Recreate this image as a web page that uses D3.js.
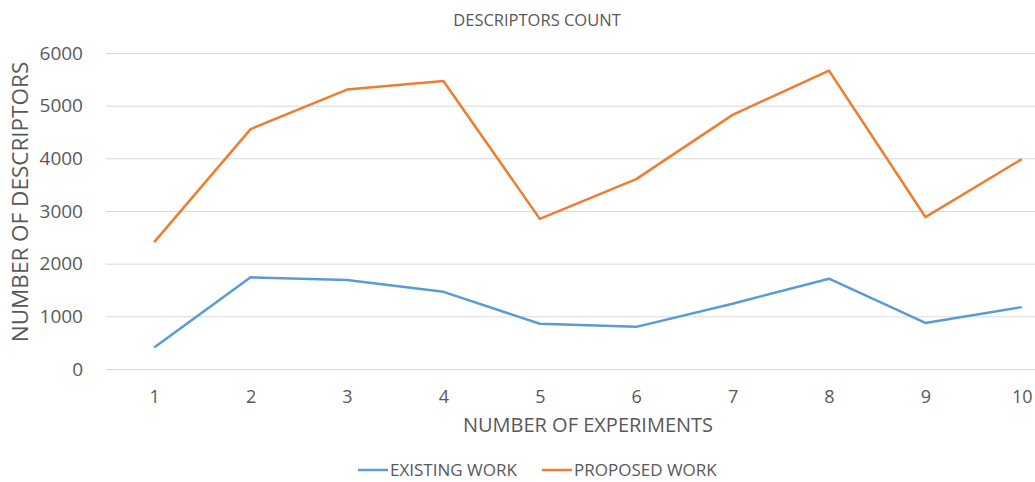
<!DOCTYPE html>
<html>
<head>
<meta charset="utf-8">
<script src="https://cdn.jsdelivr.net/npm/d3@7"></script>
<style>
  body { margin: 0; background: #fff; overflow: hidden; }
  svg text { font-family: "Open Sans", sans-serif; fill: #595959; }
</style>
</head>
<body>
<svg></svg>
<script>
const width = 1035;
const height = 482;

const experiments = ['1', '2', '3', '4', '5', '6', '7', '8', '9', '10'];
const existingWork = [410, 1740, 1690, 1465, 860, 800, 1240, 1715, 875, 1175];
const proposedWork = [2410, 4555, 5305, 5470, 2850, 3605, 4825, 5665, 2885, 3985];
const yTicks = [0, 1000, 2000, 3000, 4000, 5000, 6000];

const series = [
  { name: 'EXISTING WORK', values: existingWork, color: '#5B9BD5' },
  { name: 'PROPOSED WORK', values: proposedWork, color: '#ED7D31' }
];

// plot area runs past the right edge, as in the cropped original
const margin = { top: 53, left: 106, bottom: 113 };
const plotRight = 1070;

const svg = d3.select('svg')
  .attr('width', width)
  .attr('height', height);

const x = d3.scalePoint()
  .domain(experiments)
  .range([margin.left, plotRight])
  .padding(0.5);

const y = d3.scaleLinear()
  .domain([0, 6000])
  .range([height - margin.bottom, margin.top]);

// gridlines
svg.append('g')
  .selectAll('line')
  .data(yTicks)
  .enter()
  .append('line')
    .attr('x1', margin.left)
    .attr('x2', plotRight)
    .attr('y1', d => y(d) + 0.5)
    .attr('y2', d => y(d) + 0.5)
    .attr('stroke', '#d9d9d9')
    .attr('stroke-width', 1);

// y axis labels
const yAxis = svg.append('g')
  .attr('transform', `translate(${margin.left - 23},0)`)
  .call(d3.axisLeft(y).tickValues(yTicks).tickFormat(d3.format('d')).tickSize(0).tickPadding(0));
yAxis.select('.domain').remove();
yAxis.selectAll('text')
  .attr('font-size', 19)
  .attr('fill', '#595959')
  .style('font-family', '"Open Sans", sans-serif');

// x axis labels
const xAxis = svg.append('g')
  .attr('transform', `translate(0,${height - margin.bottom})`)
  .call(d3.axisBottom(x).tickSize(0).tickPadding(21));
xAxis.select('.domain').remove();
xAxis.selectAll('text')
  .attr('font-size', 18)
  .attr('fill', '#595959')
  .style('font-family', '"Open Sans", sans-serif');

const line = d3.line()
  .x((d, i) => x(experiments[i]))
  .y(d => y(d));

svg.selectAll('path.series')
  .data(series)
  .enter()
  .append('path')
    .attr('class', 'series')
    .attr('fill', 'none')
    .attr('stroke', d => d.color)
    .attr('stroke-width', 2.5)
    .attr('stroke-linejoin', 'round')
    .attr('d', d => line(d.values));

// titles
svg.append('text')
  .attr('x', 537)
  .attr('y', 26)
  .attr('text-anchor', 'middle')
  .attr('font-size', 16.5)
  .text('DESCRIPTORS COUNT');

svg.append('text')
  .attr('x', (margin.left + plotRight) / 2)
  .attr('y', 432)
  .attr('text-anchor', 'middle')
  .attr('font-size', 20)
  .text('NUMBER OF EXPERIMENTS');

svg.append('text')
  .attr('transform', `translate(28,${(y(0) + y(6000)) / 2 - 9}) rotate(-90)`)
  .attr('text-anchor', 'middle')
  .attr('font-size', 22.5)
  .text('NUMBER OF DESCRIPTORS');

// legend
const legendX = [358, 542];
const legend = svg.selectAll('g.legend')
  .data(series)
  .enter()
  .append('g')
    .attr('class', 'legend')
    .attr('transform', (d, i) => `translate(${legendX[i]},470)`);

legend.append('line')
  .attr('x1', 0)
  .attr('x2', 30)
  .attr('stroke', d => d.color)
  .attr('stroke-width', 2.5);

legend.append('text')
  .attr('x', 32)
  .attr('dy', '0.35em')
  .attr('font-size', 17)
  .text(d => d.name);
</script>
</body>
</html>
